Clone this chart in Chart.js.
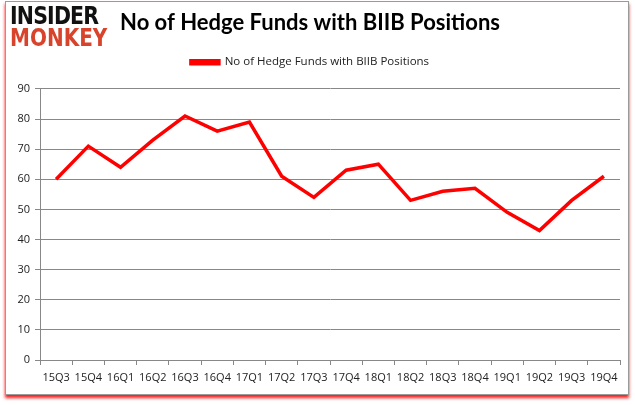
<!DOCTYPE html>
<html lang="en">
<head>
  <meta charset="UTF-8" />
  <title>No of Hedge Funds with BIIB Positions</title>
  <script src="https://cdn.jsdelivr.net/npm/chart.js"></script>
  <style>
    body { margin: 0; background: white; }
    .wrap { position: relative; width: 635px; height: 405px; }
    .frame { position: absolute; left: 5px; top: 1px; width: 622px; height: 392px; border: 1px solid #9a9a9a; box-shadow: 0 3px 3px rgba(255,0,0,0.9); }
    .logo { position: absolute; left: 10px; top: 5px; font-family: 'DejaVu Sans', sans-serif; font-weight: bold; line-height: 22px; }
    .logo div { transform-origin: 0 0; white-space: nowrap; }
    .logo .a { color: #111; font-size: 25px; letter-spacing: -1px; transform: scaleX(0.82); }
    .logo .b { color: #d8432c; font-size: 25px; letter-spacing: 0px; transform: scaleX(0.80); }
    canvas { position: absolute; left: 0; top: 0; }
  </style>
</head>
<body>
  <div class="wrap">
    <div class="frame"></div>
    <canvas id="c" width="635" height="405"></canvas>
    <div class="logo"><div class="a">INSIDER</div><div class="b">MONKEY</div></div>
  </div>
  <script>
    const quarters = ['15Q3','15Q4','16Q1','16Q2','16Q3','16Q4','17Q1','17Q2','17Q3','17Q4','18Q1','18Q2','18Q3','18Q4','19Q1','19Q2','19Q3','19Q4'];
    const funds = [60, 71, 64, 73, 81, 76, 79, 61, 54, 63, 65, 53, 56, 57, 49, 43, 53, 61];
    const seriesName = 'No of Hedge Funds with BIIB Positions';

    // extra room between legend and plot area
    const legendGap = {
      id: 'legendGap',
      afterInit(chart) {
        const fit = chart.legend.fit;
        chart.legend.fit = function () {
          fit.call(this);
          this.height += 11;
        };
      }
    };

    new Chart(document.getElementById('c'), {
      type: 'line',
      data: {
        labels: quarters,
        datasets: [{
          label: seriesName,
          data: funds,
          borderColor: '#ff0000',
          backgroundColor: '#ff0000',
          borderWidth: 3.5,
          pointRadius: 0,
          tension: 0
        }]
      },
      plugins: [legendGap],
      options: {
        responsive: false,
        animation: false,
        layout: { padding: { left: 0, right: 15, top: 5, bottom: 0 } },
        plugins: {
          title: {
            display: true,
            text: 'No of Hedge Funds with BIIB Positions',
            color: '#000',
            font: { family: 'Lato', size: 22, weight: 'bold' },
            padding: { top: 5, bottom: 6 }
          },
          legend: {
            labels: {
              color: '#222',
              font: { family: 'Open Sans', size: 11.5 },
              boxWidth: 28,
              boxHeight: 3,
              padding: 14
            }
          },
          tooltip: { enabled: false }
        },
        scales: {
          x: {
            offset: true,
            grid: { display: true, drawOnChartArea: false, offset: true, color: '#888', tickLength: 5 },
            border: { color: '#888' },
            ticks: { color: '#222', font: { family: 'Open Sans', size: 11 }, maxRotation: 0, autoSkip: false, padding: 6 },
            afterFit: s => { s.height = 45; }
          },
          y: {
            min: 0, max: 90,
            ticks: { stepSize: 10, color: '#222', font: { family: 'Open Sans', size: 11 }, padding: 5 },
            grid: { color: '#888', tickLength: 5 },
            border: { color: '#888' },
            afterFit: s => { s.width = 40; }
          }
        }
      }
    });
  </script>
</body>
</html>
